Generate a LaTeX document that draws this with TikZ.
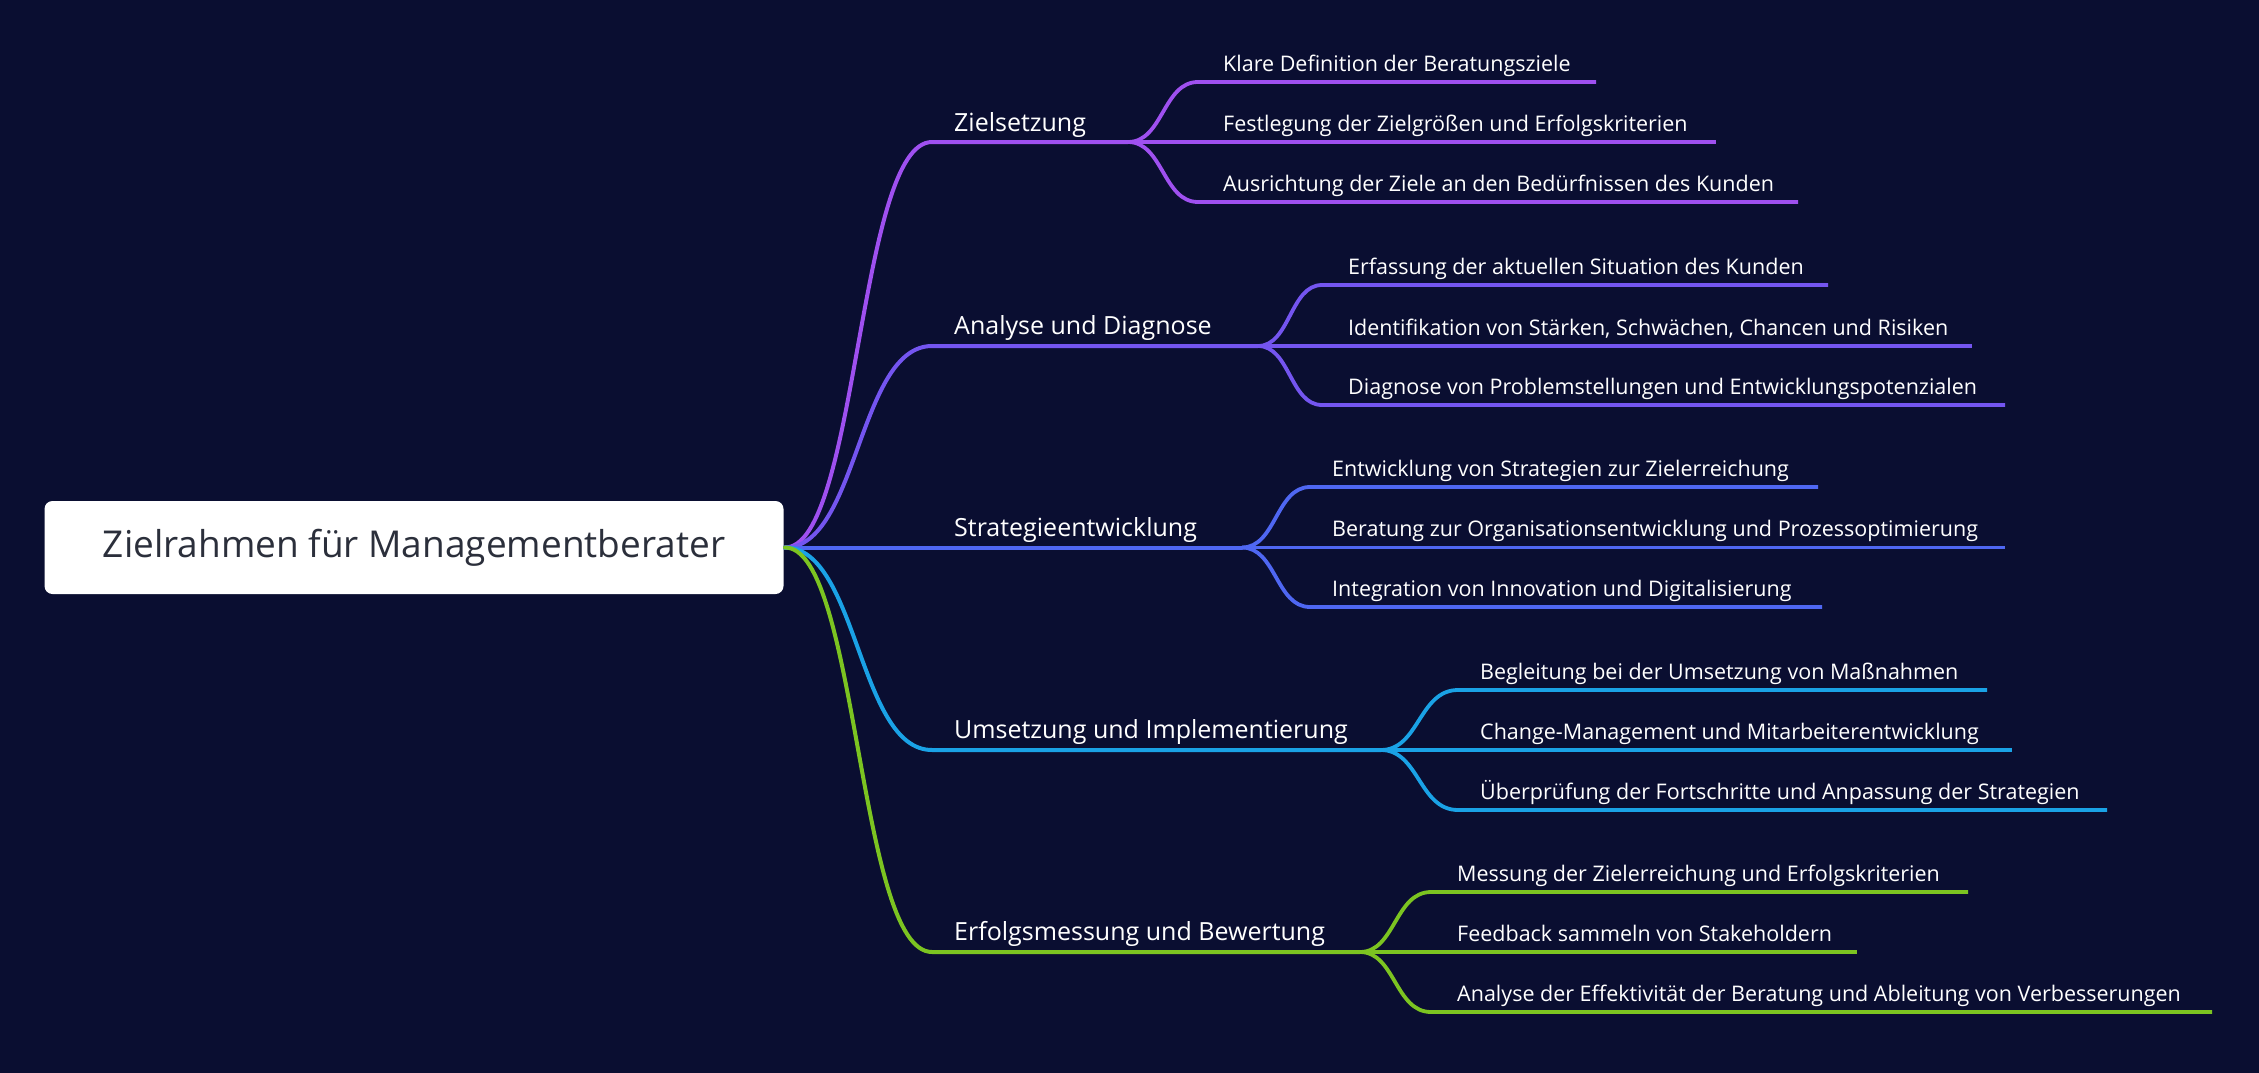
\documentclass[tikz,border=0pt]{standalone}
\usepackage{fontspec}
\setmainfont{Open Sans}
\definecolor{bg}{HTML}{0A0E31}
\definecolor{cz}{HTML}{9F50F0}
\definecolor{ca}{HTML}{7455F0}
\definecolor{cs}{HTML}{4F67F2}
\definecolor{cu}{HTML}{1AA2E6}
\definecolor{ce}{HTML}{7CC421}
\definecolor{roottext}{HTML}{2B2F3B}
\tikzset{
  rootbox/.style={fill=white, rounded corners=8pt, minimum width=739pt, minimum height=93pt, inner sep=0pt, text=roottext, font=\fontsize{37}{40}\selectfont},
  mainlabel/.style={anchor=base west, inner sep=0pt, text=white, font=\fontsize{25}{28}\selectfont},
  leaflabel/.style={anchor=base west, inner sep=0pt, text=white, font=\fontsize{21.5}{24}\selectfont},
  mainline/.style={line width=4pt, line cap=round},
  leafline/.style={line width=3.8pt}
}
\begin{document}
\begin{tikzpicture}[x=1pt, y=-1pt]
\useasboundingbox (0,0) rectangle (2259,1073);
\fill[bg] (0,0) rectangle (2259,1073);

\node[rootbox] (root) at (414,547.5) {Zielrahmen für Managementberater};
\coordinate (r) at (785,547.5);

% ---------- Zielsetzung ----------
\coordinate (z0) at (932,142);
\coordinate (zf) at (1128,142);
\coordinate (z1s) at (1198,82);  \coordinate (z1e) at (1596,82);
\coordinate (z2e) at (1716,142);
\coordinate (z3s) at (1198,202); \coordinate (z3e) at (1798,202);
\node[mainlabel] (zl) at (954,131) {Zielsetzung};
\node[leaflabel] (z1) at (1223,71) {Klare Definition der Beratungsziele};
\node[leaflabel] (z2) at (1223,131) {Festlegung der Zielgrößen und Erfolgskriterien};
\node[leaflabel] (z3) at (1223,191) {Ausrichtung der Ziele an den Bedürfnissen des Kunden};
\draw[mainline, cz] (r) .. controls (858,547.5) and (858,142) .. (z0) -- (zf);
\draw[leafline, cz] (zf) .. controls (1163,142) and (1163,82) .. (z1s) -- (z1e);
\draw[leafline, cz] (zf) -- (z2e);
\draw[leafline, cz] (zf) .. controls (1163,142) and (1163,202) .. (z3s) -- (z3e);

% ---------- Analyse ----------
\coordinate (a0) at (932,346);
\coordinate (af) at (1258,346);
\coordinate (a1s) at (1322,285); \coordinate (a1e) at (1828,285);
\coordinate (a2e) at (1972,346);
\coordinate (a3s) at (1322,405); \coordinate (a3e) at (2005,405);
\node[mainlabel] (al) at (954,334) {Analyse und Diagnose};
\node[leaflabel] (a1) at (1348,274) {Erfassung der aktuellen Situation des Kunden};
\node[leaflabel] (a2) at (1348,335) {Identifikation von Stärken, Schwächen, Chancen und Risiken};
\node[leaflabel] (a3) at (1348,394) {Diagnose von Problemstellungen und Entwicklungspotenzialen};
\draw[mainline, ca] (r) .. controls (858,547.5) and (858,346) .. (a0) -- (af);
\draw[leafline, ca] (af) .. controls (1290,346) and (1290,285) .. (a1s) -- (a1e);
\draw[leafline, ca] (af) -- (a2e);
\draw[leafline, ca] (af) .. controls (1290,346) and (1290,405) .. (a3s) -- (a3e);

% ---------- Strategie ----------
\coordinate (sf) at (1242,547.5);
\coordinate (s1s) at (1310,487); \coordinate (s1e) at (1818,487);
\coordinate (s2e) at (2005,547.5);
\coordinate (s3s) at (1310,607); \coordinate (s3e) at (1822,607);
\node[mainlabel] (sl) at (954,536) {Strategieentwicklung};
\node[leaflabel] (s1) at (1332,476) {Entwicklung von Strategien zur Zielerreichung};
\node[leaflabel] (s2) at (1332,536) {Beratung zur Organisationsentwicklung und Prozessoptimierung};
\node[leaflabel] (s3) at (1332,596) {Integration von Innovation und Digitalisierung};
\draw[mainline, cs] (r) -- (sf);
\draw[leafline, cs] (sf) .. controls (1276,547.5) and (1276,487) .. (s1s) -- (s1e);
\draw[leafline, cs] (sf) -- (s2e);
\draw[leafline, cs] (sf) .. controls (1276,547.5) and (1276,607) .. (s3s) -- (s3e);

% ---------- Umsetzung ----------
\coordinate (u0) at (932,750);
\coordinate (uf) at (1381,750);
\coordinate (u1s) at (1458,690); \coordinate (u1e) at (1987,690);
\coordinate (u2e) at (2012,750);
\coordinate (u3s) at (1458,810); \coordinate (u3e) at (2107,810);
\node[mainlabel] (ul) at (954,738) {Umsetzung und Implementierung};
\node[leaflabel] (u1) at (1480,679) {Begleitung bei der Umsetzung von Maßnahmen};
\node[leaflabel] (u2) at (1480,739) {Change-Management und Mitarbeiterentwicklung};
\node[leaflabel] (u3) at (1480,799) {Überprüfung der Fortschritte und Anpassung der Strategien};
\draw[mainline, cu] (r) .. controls (858,547.5) and (858,750) .. (u0) -- (uf);
\draw[leafline, cu] (uf) .. controls (1419,750) and (1419,690) .. (u1s) -- (u1e);
\draw[leafline, cu] (uf) -- (u2e);
\draw[leafline, cu] (uf) .. controls (1419,750) and (1419,810) .. (u3s) -- (u3e);

% ---------- Erfolgsmessung ----------
\coordinate (e0) at (932,952);
\coordinate (ef) at (1360,952);
\coordinate (e1s) at (1431,892); \coordinate (e1e) at (1968,892);
\coordinate (e2e) at (1857,952);
\coordinate (e3s) at (1431,1012); \coordinate (e3e) at (2212,1012);
\node[mainlabel] (el) at (954,940) {Erfolgsmessung und Bewertung};
\node[leaflabel] (e1) at (1457,881) {Messung der Zielerreichung und Erfolgskriterien};
\node[leaflabel] (e2) at (1457,941) {Feedback sammeln von Stakeholdern};
\node[leaflabel] (e3) at (1457,1001) {Analyse der Effektivität der Beratung und Ableitung von Verbesserungen};
\draw[mainline, ce] (r) .. controls (858,547.5) and (858,952) .. (e0) -- (ef);
\draw[leafline, ce] (ef) .. controls (1395,952) and (1395,892) .. (e1s) -- (e1e);
\draw[leafline, ce] (ef) -- (e2e);
\draw[leafline, ce] (ef) .. controls (1395,952) and (1395,1012) .. (e3s) -- (e3e);
\end{tikzpicture}
\end{document}
